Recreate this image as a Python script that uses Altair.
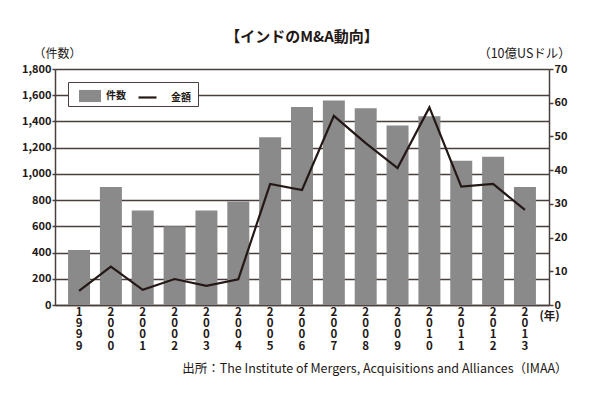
import altair as alt
import pandas as pd

years = ["1999", "2000", "2001", "2002", "2003", "2004", "2005", "2006",
         "2007", "2008", "2009", "2010", "2011", "2012", "2013"]
counts = [420, 900, 720, 600, 720, 790, 1280, 1510, 1560, 1500, 1370, 1440, 1100, 1130, 900]
amounts = [4.2, 11.4, 4.5, 7.7, 5.7, 7.6, 35.9, 34.1, 56.1, 48.0, 40.6, 58.6, 35.1, 35.9, 28.2]
left_ticks = [0, 200, 400, 600, 800, 1000, 1200, 1400, 1600, 1800]
right_ticks = [0, 10, 20, 30, 40, 50, 60, 70]

title_text = "【インドのM&A動向】"
left_title = "（件数）"
right_title = "（10億USドル）"
year_unit = "(年)"
source_text = "出所：The Institute of Mergers, Acquisitions and Alliances（IMAA）"
bar_name = "件数"
line_name = "金額"

FONT = "Noto Sans CJK JP"
INK = "#231815"
GRID = "#4a3f3c"
BARC = "#8a8a8a"

df = pd.DataFrame({"year": years, "count": counts, "amount": amounts,
                   "bar": bar_name, "line": line_name})

xenc = alt.X("year:N", sort=years,
             scale=alt.Scale(paddingInner=0.31, paddingOuter=0.41),
             axis=alt.Axis(title=source_text, labelAngle=0,
                           labelExpr="split(datum.label, '')",
                           labelFontSize=11.5, labelLineHeight=11.4,
                           labelPadding=1, labelBaseline="top",
                           labelFont=FONT, labelColor=INK, labelFontWeight="bold",
                           labelOverlap=False,
                           ticks=False, domainColor=GRID, domainWidth=1.5,
                           titleX=512, titleY=63, titleAlign="right",
                           titleBaseline="middle", titleFont=FONT,
                           titleFontSize=12.5, titleFontWeight="normal",
                           titleColor=INK))

yleft = alt.Y("count:Q", scale=alt.Scale(domain=[0, 1800], nice=False),
              axis=alt.Axis(values=left_ticks, format=",d", labelOverlap=False,
                            title=left_title, titleAngle=0, titleX=2, titleY=-16,
                            titleAlign="center", titleBaseline="middle",
                            titleFont=FONT, titleFontSize=12, titleFontWeight="normal",
                            titleColor=INK,
                            labelFont=FONT, labelFontSize=11, labelColor=INK,
                            labelFontWeight="bold", labelPadding=1,
                            tickSize=3, tickColor=GRID, tickWidth=1.5,
                            domainColor=GRID, domainWidth=1.5,
                            grid=True, gridColor=GRID, gridWidth=1.6, gridOpacity=1))

bars = alt.Chart(df).mark_bar(color=BARC).encode(
    x=xenc,
    y=yleft,
    fill=alt.Fill("bar:N", scale=alt.Scale(domain=[bar_name], range=[BARC]),
                  legend=alt.Legend(title=".", titleOrient="right", titlePadding=66,
                                    titleColor="white", titleFontSize=8,
                                    orient="none", legendX=13, legendY=13,
                                    fillColor="white", strokeColor=GRID,
                                    padding=3, symbolOffset=8,
                                    symbolType="M-1,-0.55H1V0.55H-1Z",
                                    symbolSize=484, symbolStrokeWidth=0,
                                    labelOffset=5,
                                    labelFont=FONT, labelFontSize=10,
                                    labelFontWeight="bold", labelColor=INK,
                                    zindex=1)),
)

unit_df = pd.DataFrame({"year": [years[-1]], "count": [0], "t": [year_unit]})
unit = alt.Chart(unit_df).mark_text(
    align="left", baseline="middle", dx=14.5, dy=12, font=FONT, fontSize=11.5,
    fontWeight="bold", color=INK
).encode(x=xenc, y=yleft, text="t:N")

line = alt.Chart(df).mark_line(strokeWidth=2.2).encode(
    x=xenc,
    y=alt.Y("amount:Q", scale=alt.Scale(domain=[0, 70], nice=False),
            axis=alt.Axis(values=right_ticks, orient="right", labelOverlap=False,
                          title=right_title, titleAngle=0, titleX=-25, titleY=-16,
                          titleAlign="center", titleBaseline="middle",
                          titleFont=FONT, titleFontSize=12.5, titleFontWeight="normal",
                          titleColor=INK,
                          labelFont=FONT, labelFontSize=11, labelColor=INK,
                          labelFontWeight="bold", labelPadding=1,
                          tickSize=4, tickColor=GRID, tickWidth=1.5,
                          domainColor=GRID, domainWidth=1.5, grid=False)),
    stroke=alt.Stroke("line:N", scale=alt.Scale(domain=[line_name], range=[INK]),
                      legend=alt.Legend(title=None, orient="none", legendX=82, legendY=18,
                                        padding=0, symbolOffset=0,
                                        symbolType="stroke", symbolSize=324,
                                        symbolStrokeWidth=2.2,
                                        labelOffset=13,
                                        labelFont=FONT, labelFontSize=10,
                                        labelFontWeight="bold", labelColor=INK,
                                        zindex=2)),
)

chart = alt.layer(alt.layer(bars, unit), line).resolve_scale(y="independent").properties(
    width=494, height=236,
    autosize=alt.AutoSizeParams(type="none"),
    padding={"left": 47, "top": 61, "right": 36, "bottom": 82},
    title=alt.TitleParams(text=title_text, anchor="middle", font=FONT, fontSize=15,
                          fontWeight="bold", color=INK, offset=2),
).configure_view(stroke=None).configure(background="white")

chart.save("out.html", embed_options={"renderer": "svg", "actions": False})
